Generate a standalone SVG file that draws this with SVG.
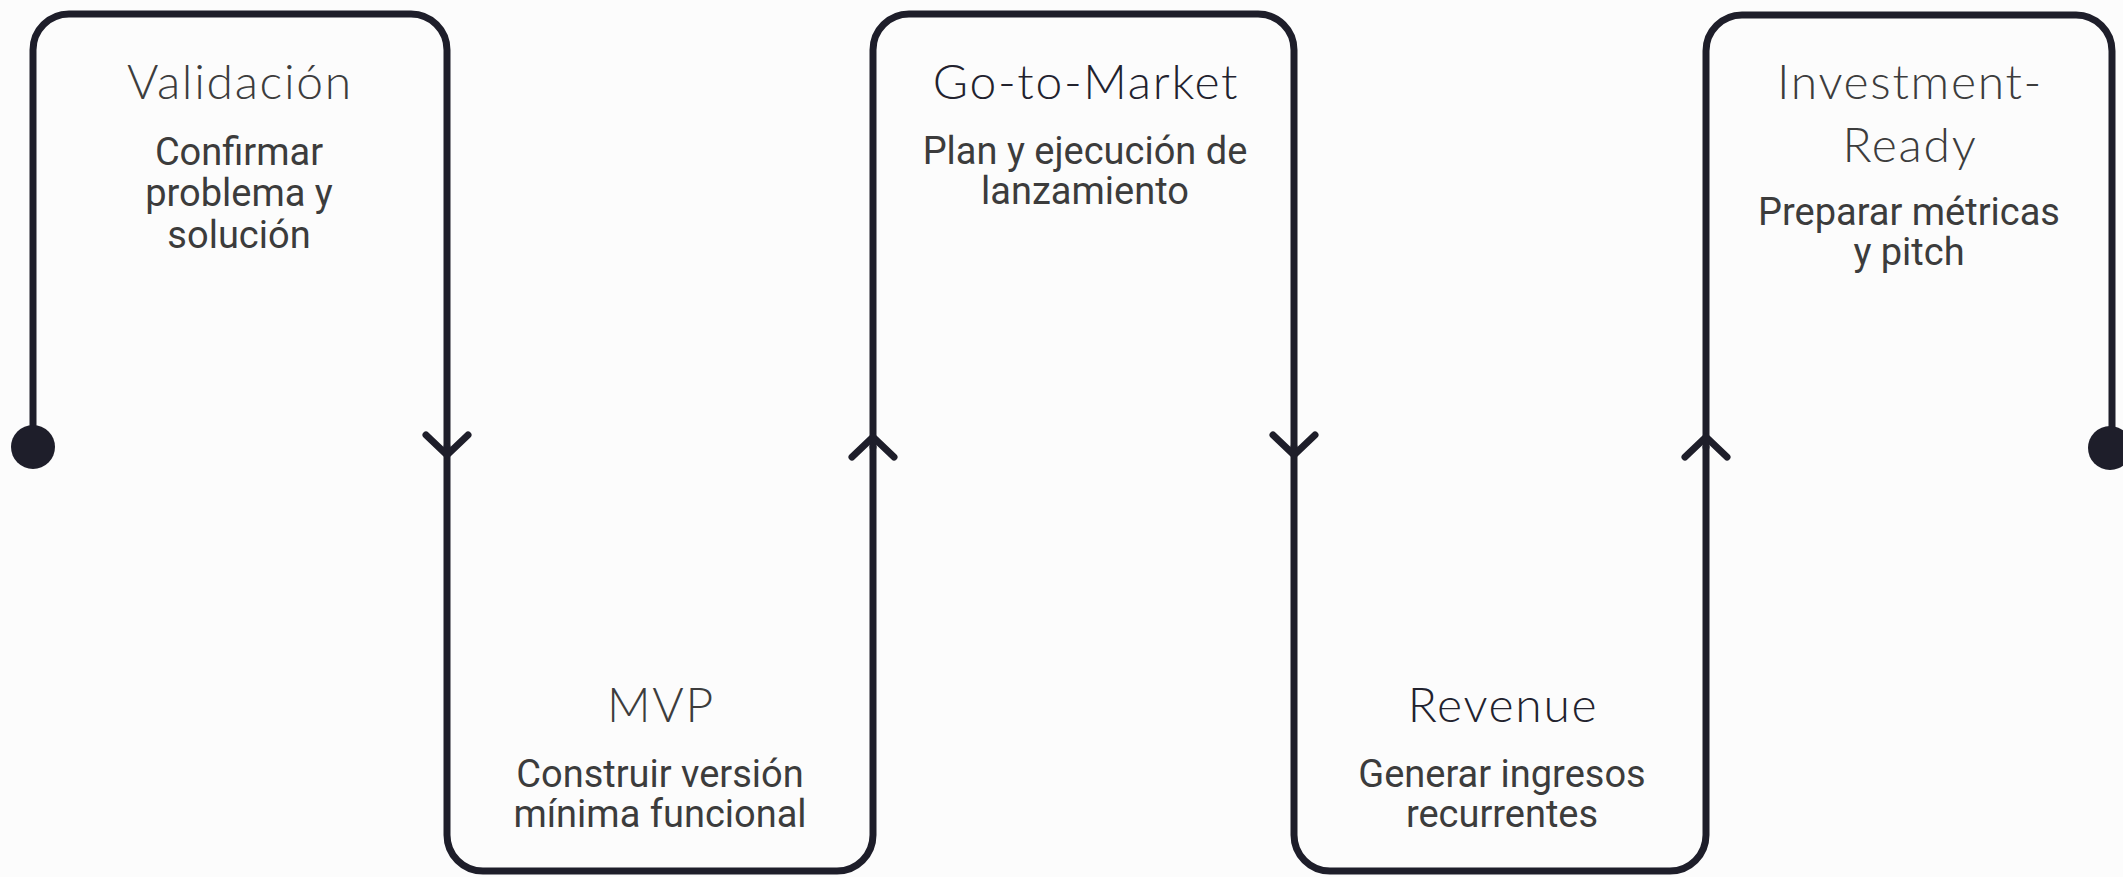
<svg xmlns="http://www.w3.org/2000/svg" width="2123" height="877" viewBox="0 0 2123 877">
<style>
.bg{fill:#fcfcfc}
.ln{fill:none;stroke:#1e1e2a;stroke-width:7;stroke-linecap:round;stroke-linejoin:round}
.dot{fill:#1e1e2a}
.h{font-family:Lato,"Liberation Sans",sans-serif;font-weight:300;font-size:48px;letter-spacing:1.7px;text-anchor:middle;fill:#3d3d3d}
.hd{fill:#22222e}
.s{font-family:Roboto,"Liberation Sans",sans-serif;font-weight:400;font-size:38px;text-anchor:middle;fill:#3c3c3c}
</style>
<rect class="bg" x="0" y="0" width="2123" height="877"/>
<g id="validacion">
<path class="ln" d="M33,447 V50 A36,36 0 0 1 69,14 H411 A36,36 0 0 1 447,50 V447"/>
<text class="h" x="240" y="99">Validación</text>
<text class="s" x="239" y="165">Confirmar</text>
<text class="s" x="239" y="206">problema y</text>
<text class="s" x="239" y="248">solución</text>
</g>
<g id="mvp">
<path class="ln" d="M447,447 V835 A36,36 0 0 0 483,871 H837 A36,36 0 0 0 873,835 V447"/>
<text class="h" x="661" y="722">MVP</text>
<text class="s" x="660" y="787">Construir versión</text>
<text class="s" x="660" y="827">mínima funcional</text>
</g>
<g id="gotomarket">
<path class="ln" d="M873,447 V50 A36,36 0 0 1 909,14 H1258 A36,36 0 0 1 1294,50 V447"/>
<text class="h hd" x="1086" y="99">Go-to-Market</text>
<text class="s" x="1085" y="164">Plan y ejecución de</text>
<text class="s" x="1085" y="204">lanzamiento</text>
</g>
<g id="revenue">
<path class="ln" d="M1294,447 V835 A36,36 0 0 0 1330,871 H1670 A36,36 0 0 0 1706,835 V447"/>
<text class="h hd" x="1503" y="722">Revenue</text>
<text class="s" x="1502" y="787">Generar ingresos</text>
<text class="s" x="1502" y="827">recurrentes</text>
</g>
<g id="investment">
<path class="ln" d="M1706,447 V51 A36,36 0 0 1 1742,15 H2076 A36,36 0 0 1 2112,51 V448"/>
<text class="h" x="1910" y="99">Investment-</text>
<text class="h" x="1910" y="162">Ready</text>
<text class="s" x="1909" y="225">Preparar métricas</text>
<text class="s" x="1909" y="265">y pitch</text>
</g>
<g id="connectors">
<circle class="dot" cx="33" cy="447" r="22"/>
<circle class="dot" cx="2110" cy="448" r="22"/>
<path class="ln" d="M426,435 L447,455 L468,435"/>
<path class="ln" d="M852,457 L873,437 L894,457"/>
<path class="ln" d="M1273,435 L1294,455 L1315,435"/>
<path class="ln" d="M1685,457 L1706,437 L1727,457"/>
</g>
</svg>
